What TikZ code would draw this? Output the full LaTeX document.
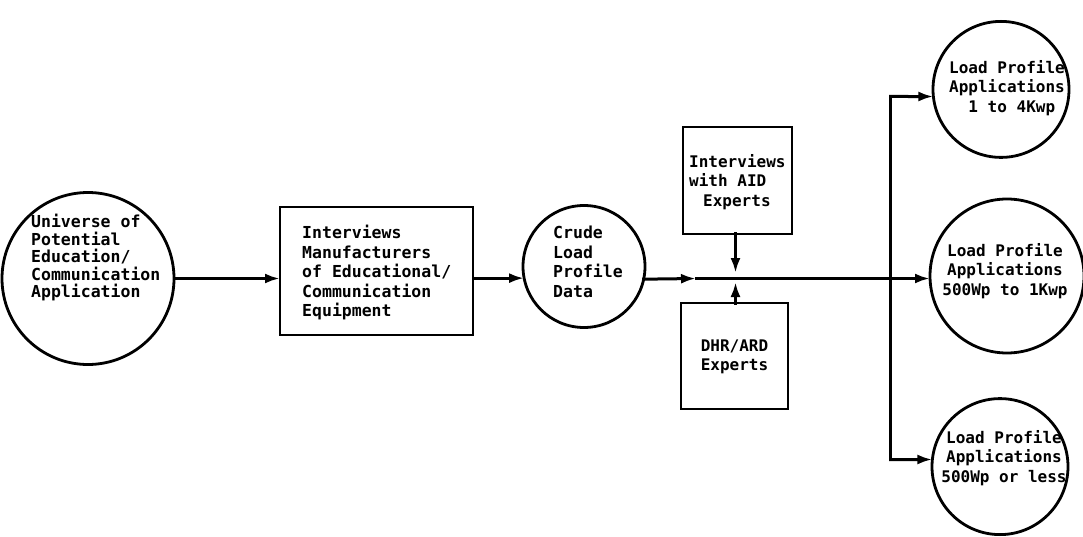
\documentclass[tikz,border=0pt]{standalone}
\usepackage{fontspec}
\setmainfont{DejaVu Sans Mono}
\usetikzlibrary{arrows.meta,calc}
\begin{document}
\begin{tikzpicture}[x=1pt,y=-1pt,
  shp/.style={draw, line width=2.8pt, inner sep=0pt, outer sep=0pt},
  circ/.style={shp, circle},
  boxn/.style={shp, rectangle},
  txt/.style={inner sep=0pt, font=\bfseries\fontsize{16.5}{19.5}\selectfont},
  txts/.style={inner sep=0pt, font=\bfseries\fontsize{16}{19.5}\selectfont},
  conn/.style={draw, line width=3pt, line cap=rect},
  arr/.style={conn, -{Latex[length=15pt,width=10pt]}}]
\useasboundingbox (0,0) rectangle (1083,537);

% left circle
\node[circ, minimum size=172pt] (u) at (88,278.5) {};
\node[inner sep=0pt, font=\bfseries\fontsize{16.5}{17.5}\selectfont, anchor=west, align=left] (ut) at (31,258)
  {Universe of\\Potential\\Education/\\Communication\\Application};

% manufacturers box
\node[boxn, minimum width=193pt, minimum height=128pt] (b1) at (376.5,271) {};
\node[txt, anchor=west, align=left] (b1t) at (302,273)
  {Interviews\\Manufacturers\\of Educational/\\Communication\\Equipment};

% crude circle
\node[circ, minimum size=122pt] (c) at (584,266.5) {};
\node[txt, anchor=west, align=left] (ct) at (553,262) {Crude\\Load\\Profile\\Data};

% AID box
\node[boxn, minimum width=109pt, minimum height=107pt] (a) at (737.5,180.5) {};
\node[txts, anchor=west, align=left] (att) at (689,182)
  {Interviews\\with AID\\\hspace*{14pt}Experts};

% DHR box
\node[boxn, minimum width=107pt, minimum height=106pt] (d) at (734.5,356) {};
\node[txts, align=center] (dt) at (734.5,357) {DHR/ARD\\Experts};

% right circles
\node[circ, minimum size=136pt] (r1) at (1001,89.4) {};
\node[txts, anchor=west, align=left] (r1t) at (949,88)
  {Load Profile\\Applications\\\phantom{xx}1 to 4Kwp};
\node[circ, minimum size=154pt] (r2) at (1007,276) {};
\node[txts, align=center] (r2t) at (1005,271)
  {Load Profile\\Applications\\500Wp to 1Kwp};
\node[circ, minimum size=136pt] (r3) at (1000,466.6) {};
\node[txts, align=center] (r3t) at (1004,458)
  {Load Profile\\Applications\\500Wp or less};

% coordinates
\coordinate (ac) at (696,278.5);
\coordinate (ja) at (735.5,273);
\coordinate (jd) at (735.5,282);
\coordinate (bus) at (890.5,278.5);
\coordinate (bt) at (890.5,96.5);
\coordinate (bb) at (890.5,459.5);

% connectors
\path[arr] (u.east) -- (u.east -| b1.west);
\path[arr] (b1.east |- c.191.3) -- (c.191.3);
\path[arr] (c.348.7) -- (ac);
\path[conn] (ac) -- (bus);
\path[arr] (bus) -- (bus -| r2.west);
\path[conn] (bt) -- (bb);
\path[arr] (bt) -- (r1.186);
\path[arr] (bb) -- (r3.174);
\path[arr] (ja |- a.south) -- (ja);
\path[arr] (jd |- d.north) -- (jd);
\end{tikzpicture}
\end{document}
